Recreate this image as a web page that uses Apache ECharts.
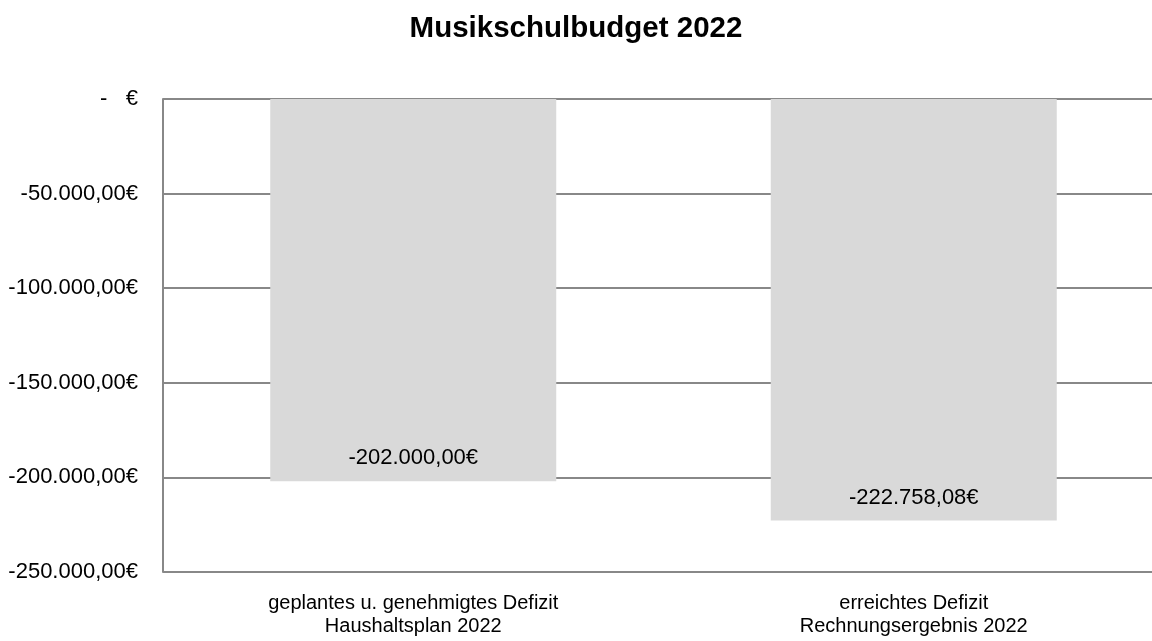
<!DOCTYPE html>
<html><head><meta charset="utf-8">
<script src="https://cdn.jsdelivr.net/npm/echarts@6/dist/echarts.min.js"></script>
<style>html,body{margin:0;padding:0;background:#fff;overflow:hidden;width:1152px;height:641px}#c{width:1164px;height:641px}</style>
</head><body><div id="c"></div>
<script>
const title = 'Musikschulbudget 2022';
const categories = ['geplantes u. genehmigtes Defizit\nHaushaltsplan 2022', 'erreichtes Defizit\nRechnungsergebnis 2022'];
const values = [-202000.00, -222758.08];
const yMin = -250000, yMax = 0, yStep = 50000;

function euro(v) {
  if (v === 0) return '-   €';
  const neg = v < 0;
  const a = Math.abs(v);
  const parts = a.toFixed(2).split('.');
  const int = parts[0].replace(/\B(?=(\d{3})+(?!\d))/g, '.');
  return (neg ? '-' : '') + int + ',' + parts[1] + '€';
}

const chart = echarts.init(document.getElementById('c'), null, {renderer: 'canvas'});
const font = 'Liberation Sans, Arial, sans-serif';
chart.setOption({
  animation: false,
  textStyle: {fontFamily: font},
  title: {text: title, left: 571, top: 9, textAlign: 'center',
    textStyle: {fontFamily: font, fontSize: 29.5, fontWeight: 'bold', color: '#000'}},
  grid: {left: 163, right: 0, top: 99, bottom: 69, containLabel: false},
  xAxis: {type: 'category', data: categories,
    axisLine: {show: false}, axisTick: {show: false},
    axisLabel: {color: '#000', fontSize: 20, lineHeight: 23, margin: 20, fontFamily: font, interval: 0}},
  yAxis: {type: 'value', min: yMin, max: yMax, interval: yStep,
    axisLine: {show: true, lineStyle: {color: '#888', width: 2}},
    axisTick: {show: false},
    splitLine: {show: true, lineStyle: {color: '#888', width: 2}},
    axisLabel: {color: '#000', fontSize: 22, margin: 25, fontFamily: font, formatter: euro}},
  series: [{type: 'bar', data: values, barWidth: 286,
    itemStyle: {color: '#d9d9d9'},
    label: {show: true, position: 'insideBottom', distance: 12, color: '#000', fontSize: 22, fontFamily: font,
      formatter: p => euro(p.value)}}]
});
</script></body></html>
